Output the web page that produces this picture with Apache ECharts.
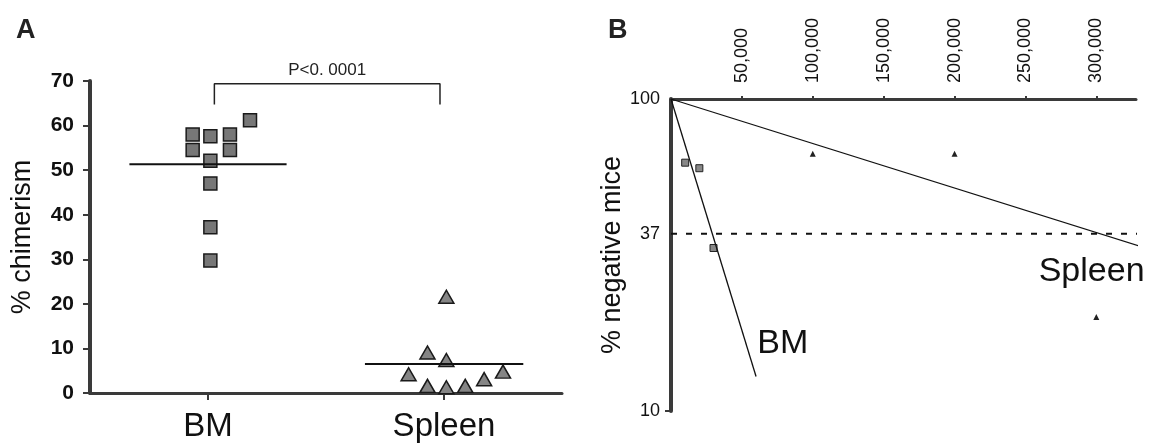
<!DOCTYPE html>
<html>
<head>
<meta charset="utf-8">
<script src="https://cdn.jsdelivr.net/npm/echarts@6/dist/echarts.min.js"></script>
<style>
  html, body { margin: 0; padding: 0; background: #fff; }
  #chart { width: 1150px; height: 443px; }
</style>
</head>
<body>
<div id="chart"></div>
<script>
// ---- panel A : % chimerism ----
var groupsA = ['BM', 'Spleen'];
var yTicksA = [0, 10, 20, 30, 40, 50, 60, 70];
// [x position inside the column, % chimerism]
var bmChimerism = [[0.935, 58], [0.935, 54.5], [1.01, 57.6], [1.093, 58], [1.093, 54.5],
  [1.178, 61.2], [1.01, 52.1], [1.01, 47], [1.01, 37.2], [1.01, 29.7]];
var spleenChimerism = [[2.01, 21.6], [1.93, 9.1], [2.01, 7.4], [1.85, 4.2], [2.25, 4.8],
  [2.17, 3.1], [1.93, 1.6], [2.01, 1.3], [2.09, 1.6]];
var bmMean = [[0.667, 51.3], [1.333, 51.3]];
var spleenMean = [[1.665, 6.5], [2.336, 6.5]];
var bracket = [[1.027, 64.7], [1.027, 69.4], [1.983, 69.4], [1.983, 64.7]];
var pLabel = 'P<0. 0001';

// ---- panel B : limiting dilution ----
var doseTicks = [50000, 100000, 150000, 200000, 250000, 300000];
var negTicks = [10, 37, 100];
var bmNegative = [[10000, 62.5], [20000, 60], [30000, 33.3]];
var spleenNegative = [[100000, 66.7], [200000, 66.7], [300000, 20]];
var bmFit = [[0, 100], [60000, 12.9]];
var spleenFit = [[0, 100], [335500, 33.2]];
var cutoff = [[0, 37], [342000, 37]];
var curveNames = ['BM', 'Spleen'];
var curveNamePos = [[60500, 16.4], [259000, 28]];

var FONT = 'Liberation Sans, Arial, sans-serif';
var AXIS = '#3a3a3a';

function comma (v) {
  return String(v).replace(/\B(?=(\d{3})+(?!\d))/g, ',');
}

var chart = echarts.init(document.getElementById('chart'));

var opt = {
  animation: false,
  textStyle: { fontFamily: FONT, color: '#111' },
  title: [
    { text: 'A', left: 11, top: 12, textStyle: { fontSize: 27, fontWeight: 'bold', color: '#222', fontFamily: FONT } },
    { text: 'B', left: 603, top: 12, textStyle: { fontSize: 27, fontWeight: 'bold', color: '#222', fontFamily: FONT } }
  ],
  grid: [
    { left: 90, top: 81, width: 472, height: 314 },
    { left: 671, top: 99, width: 465, height: 312 }
  ],
  xAxis: [
    {
      gridIndex: 0, type: 'value', min: 0.5, max: 2.5,
      splitLine: { show: false },
      axisLine: { lineStyle: { color: AXIS, width: 3 } },
      axisTick: { customValues: [1, 2], length: 7, lineStyle: { color: AXIS, width: 2 } },
      axisLabel: {
        customValues: [1, 2], margin: 17, fontSize: 33, color: '#111', fontFamily: FONT,
        formatter: function (v) { return groupsA[Math.round(v) - 1]; }
      }
    },
    {
      gridIndex: 1, type: 'value', position: 'top', min: 0, max: 328000,
      splitLine: { show: false },
      axisLine: { lineStyle: { color: AXIS, width: 3 } },
      axisTick: { customValues: doseTicks, length: 3, lineStyle: { color: AXIS, width: 2 } },
      axisLabel: {
        customValues: doseTicks, rotate: -90, margin: 16, fontSize: 18, color: '#111', fontFamily: FONT,
        formatter: function (v) { return comma(v); }
      }
    }
  ],
  yAxis: [
    {
      gridIndex: 0, type: 'value', min: yTicksA[0], max: yTicksA[yTicksA.length - 1], interval: 10,
      name: '% chimerism', nameLocation: 'middle', nameGap: 54,
      nameTextStyle: { fontSize: 27, color: '#111', fontFamily: FONT },
      splitLine: { show: false },
      axisLine: { show: true, lineStyle: { color: AXIS, width: 4 } },
      axisTick: { show: true, length: 7, lineStyle: { color: AXIS, width: 2 } },
      axisLabel: { margin: 16, fontSize: 21, fontWeight: 'bold', color: '#111', fontFamily: FONT }
    },
    {
      gridIndex: 1, type: 'log', logBase: 10, min: 10, max: 100,
      name: '% negative mice', nameLocation: 'middle', nameGap: 42,
      nameTextStyle: { fontSize: 27, color: '#111', fontFamily: FONT },
      splitLine: { show: false },
      axisLine: { show: true, lineStyle: { color: AXIS, width: 4 } },
      axisTick: { show: true, customValues: [10], length: 6, lineStyle: { color: AXIS, width: 2 } },
      axisLabel: { customValues: negTicks, margin: 11, fontSize: 18, color: '#111', fontFamily: FONT }
    }
  ],
  series: [
    {
      type: 'scatter', xAxisIndex: 0, yAxisIndex: 0, data: bmChimerism,
      symbol: 'rect', symbolSize: 13,
      itemStyle: { color: '#777', borderColor: '#1a1a1a', borderWidth: 1.5, opacity: 1 }
    },
    {
      type: 'scatter', xAxisIndex: 0, yAxisIndex: 0, data: spleenChimerism,
      symbol: 'triangle', symbolSize: [15, 13],
      itemStyle: { color: '#858585', borderColor: '#1a1a1a', borderWidth: 1.5, opacity: 1 }
    },
    {
      type: 'line', xAxisIndex: 0, yAxisIndex: 0, data: bmMean, symbol: 'none',
      lineStyle: { color: '#111', width: 2 }
    },
    {
      type: 'line', xAxisIndex: 0, yAxisIndex: 0, data: spleenMean, symbol: 'none',
      lineStyle: { color: '#111', width: 2 }
    },
    {
      type: 'line', xAxisIndex: 0, yAxisIndex: 0, data: bracket, symbol: 'none',
      lineStyle: { color: '#222', width: 1.5 }
    },
    {
      type: 'scatter', xAxisIndex: 0, yAxisIndex: 0,
      data: [[(bracket[1][0] + bracket[2][0]) / 2, bracket[1][1]]],
      symbolSize: 1, itemStyle: { color: 'rgba(0,0,0,0)', opacity: 1 },
      label: { show: true, position: 'top', distance: 4, formatter: pLabel, fontSize: 17, color: '#222', fontFamily: FONT }
    },
    {
      type: 'line', xAxisIndex: 1, yAxisIndex: 1, data: cutoff, symbol: 'none', clip: false,
      lineStyle: { color: '#111', width: 2, type: [6, 9] }
    },
    {
      type: 'line', xAxisIndex: 1, yAxisIndex: 1, data: bmFit, symbol: 'none', clip: false,
      lineStyle: { color: '#111', width: 1.3 }
    },
    {
      type: 'line', xAxisIndex: 1, yAxisIndex: 1, data: spleenFit, symbol: 'none', clip: false,
      lineStyle: { color: '#111', width: 1.3 }
    },
    {
      type: 'scatter', xAxisIndex: 1, yAxisIndex: 1, data: bmNegative,
      symbol: 'rect', symbolSize: 7,
      itemStyle: { color: '#888', borderColor: '#222', borderWidth: 1, opacity: 1 }
    },
    {
      type: 'scatter', xAxisIndex: 1, yAxisIndex: 1, data: spleenNegative,
      symbol: 'triangle', symbolSize: 6,
      itemStyle: { color: '#222', opacity: 1 }
    },
    // curve names sitting next to the fitted lines
    {
      type: 'scatter', xAxisIndex: 1, yAxisIndex: 1, symbolSize: 1,
      itemStyle: { color: 'rgba(0,0,0,0)', opacity: 1 },
      data: curveNamePos,
      label: {
        show: true, position: 'right', distance: 0, fontSize: 34, color: '#111', fontFamily: FONT,
        formatter: function (p) { return curveNames[p.dataIndex]; }
      }
    }
  ]
};

chart.setOption(opt);
</script>
</body>
</html>
